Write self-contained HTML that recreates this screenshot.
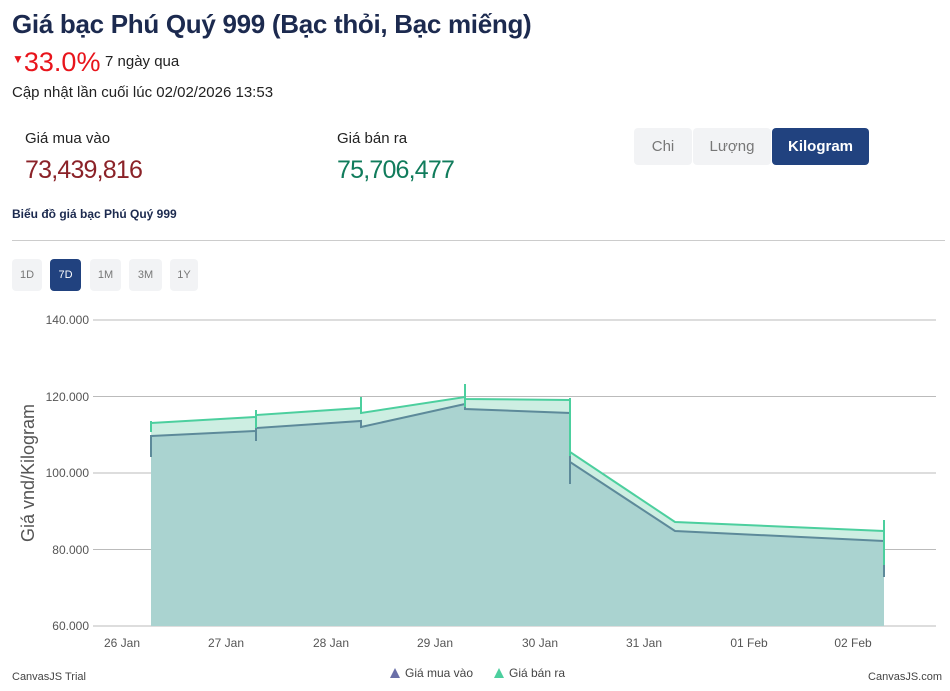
<!DOCTYPE html>
<html><head><meta charset="utf-8"><style>
body{margin:0;width:950px;height:691px;background:#fff;font-family:"Liberation Sans","Noto Sans CJK SC",sans-serif;position:relative;overflow:hidden;color:#1f2a4d}
.a{position:absolute;white-space:nowrap}
.btn{position:absolute;background:#f2f3f5;border-radius:4px;color:#777;font-size:11px;text-align:center}
</style></head><body>
<div class="a" style="left:12px;top:9px;font-size:26px;font-weight:bold;color:#1c2a4f;letter-spacing:-0.3px">Giá bạc Phú Quý 999 (Bạc thỏi, Bạc miếng)</div>
<div class="a" style="left:12px;top:47px;color:#e8141b;font-size:27px"><span style="font-size:12px;vertical-align:8px">▼</span>33.0%</div>
<div class="a" style="left:105px;top:53px;font-size:15px;color:#222">7 ngày qua</div>
<div class="a" style="left:12px;top:84px;font-size:15px;color:#222">Cập nhật lần cuối lúc 02/02/2026 13:53</div>
<div class="a" style="left:25px;top:130px;font-size:15px;color:#222">Giá mua vào</div>
<div class="a" style="left:25px;top:156px;font-size:25px;letter-spacing:-0.8px;color:#8b2228">73,439,816</div>
<div class="a" style="left:337px;top:130px;font-size:15px;color:#222">Giá bán ra</div>
<div class="a" style="left:337px;top:156px;font-size:25px;letter-spacing:-0.8px;color:#117c5c">75,706,477</div>
<div class="btn" style="left:634px;top:128px;width:58px;height:37px;line-height:37px;font-size:15px">Chi</div>
<div class="btn" style="left:693px;top:128px;width:78px;height:37px;line-height:37px;font-size:15px">Lượng</div>
<div class="btn" style="left:772px;top:128px;width:97px;height:37px;line-height:37px;font-size:15px;background:#21427f;color:#fff;font-weight:bold">Kilogram</div>
<div class="a" style="left:12px;top:207px;font-size:12px;font-weight:bold;color:#1c2a4f">Biểu đồ giá bạc Phú Quý 999</div>
<div style="position:absolute;left:12px;top:240px;width:933px;height:1px;background:#ccc"></div>
<div class="btn" style="left:12px;top:259px;width:30px;height:32px;line-height:32px">1D</div>
<div class="btn" style="left:50px;top:259px;width:31px;height:32px;line-height:32px;background:#21427f;color:#fff">7D</div>
<div class="btn" style="left:90px;top:259px;width:31px;height:32px;line-height:32px">1M</div>
<div class="btn" style="left:129px;top:259px;width:33px;height:32px;line-height:32px">3M</div>
<div class="btn" style="left:170px;top:259px;width:28px;height:32px;line-height:32px">1Y</div>
<svg class="a" style="left:0;top:0" width="950" height="691">
<g stroke="#bbb" stroke-width="1">
<line x1="93" y1="320" x2="936" y2="320"/><line x1="93" y1="396.5" x2="936" y2="396.5"/><line x1="93" y1="473" x2="936" y2="473"/><line x1="93" y1="549.5" x2="936" y2="549.5"/><line x1="93" y1="626" x2="936" y2="626"/>
</g>
<g font-size="12" fill="#555" text-anchor="end">
<text x="89" y="324">140.000</text><text x="89" y="401">120.000</text><text x="89" y="477">100.000</text><text x="89" y="554">80.000</text><text x="89" y="630">60.000</text>
</g>
<text transform="translate(34,473) rotate(-90)" font-size="18" fill="#555" text-anchor="middle">Giá vnd/Kilogram</text>
<polygon fill="#cdeee2" points="151,423 256,417 256,415 361,408 361,413 465,397 465,399 570,400 570,452 675,522 884,531 884,541 675,531 570,462 570,413 465,409 465,404 361,427 361,421 256,428 256,431 151,436"/>
<polygon fill="#aad3d0" points="151,436 256,431 256,428 361,421 361,427 465,404 465,409 570,413 570,462 675,531 884,541 884,626 151,626"/>
<polyline fill="none" stroke="#4ccf9e" stroke-width="2" points="151,423 256,417 256,415 361,408 361,413 465,397 465,399 570,400 570,452 675,522 884,531"/>
<polyline fill="none" stroke="#5d8a9a" stroke-width="2" points="151,436 256,431 256,428 361,421 361,427 465,404 465,409 570,413 570,462 675,531 884,541"/>
<g stroke="#5d8a9a" stroke-width="2"><line x1="151" y1="435" x2="151" y2="457"/><line x1="256" y1="428" x2="256" y2="441"/><line x1="361" y1="420" x2="361" y2="428"/><line x1="570" y1="455" x2="570" y2="484"/><line x1="884" y1="560" x2="884" y2="577"/></g>
<g stroke="#4ccf9e" stroke-width="2"><line x1="151" y1="421" x2="151" y2="432"/><line x1="256" y1="410" x2="256" y2="428"/><line x1="361" y1="397" x2="361" y2="414"/><line x1="465" y1="384" x2="465" y2="407"/><line x1="570" y1="398" x2="570" y2="456"/><line x1="884" y1="520" x2="884" y2="565"/></g>
<g font-size="12" fill="#555" text-anchor="middle">
<text x="122" y="647">26 Jan</text><text x="226" y="647">27 Jan</text><text x="331" y="647">28 Jan</text><text x="435" y="647">29 Jan</text><text x="540" y="647">30 Jan</text><text x="644" y="647">31 Jan</text><text x="749" y="647">01 Feb</text><text x="853" y="647">02 Feb</text>
</g>
<text x="12" y="680" font-size="11" fill="#444">CanvasJS Trial</text>
<text x="942" y="680" font-size="11" fill="#444" text-anchor="end">CanvasJS.com</text>
<polygon points="390,678 395,668 400,678" fill="#6a6fa8"/>
<text x="405" y="677" font-size="12" fill="#444">Giá mua vào</text>
<polygon points="494,678 499,668 504,678" fill="#4ccf9e"/>
<text x="509" y="677" font-size="12" fill="#444">Giá bán ra</text>
</svg>
</body></html>
